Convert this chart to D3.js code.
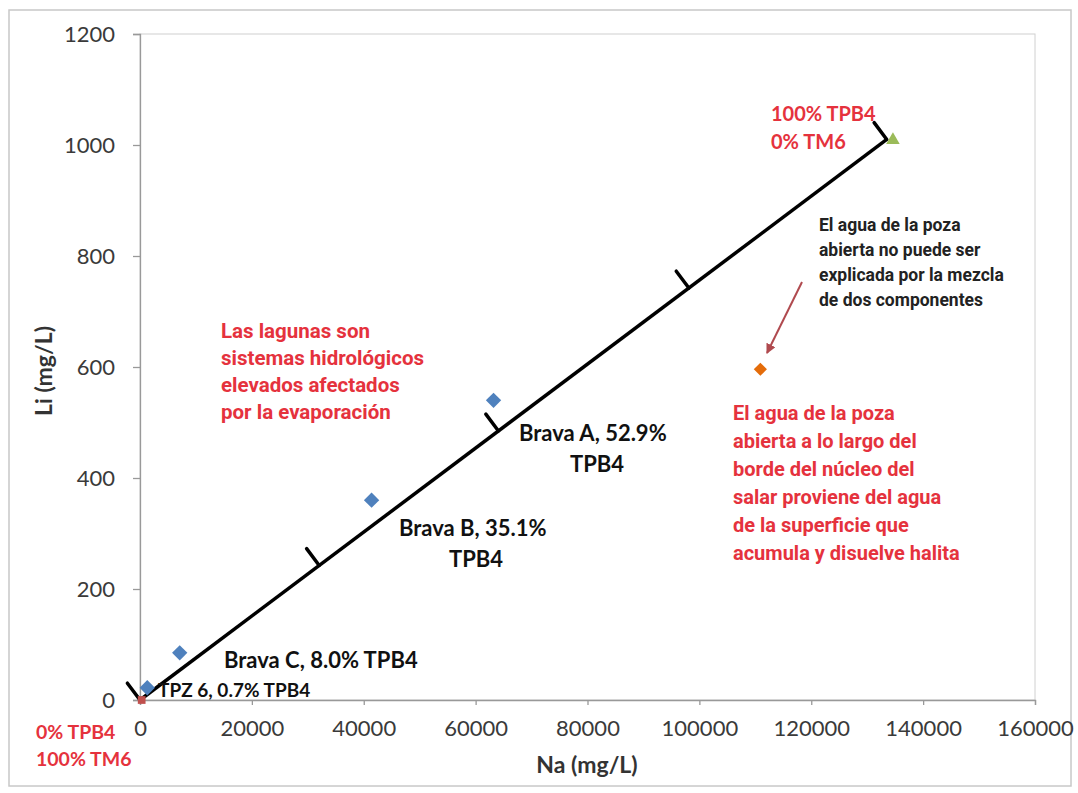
<!DOCTYPE html>
<html>
<head>
<meta charset="utf-8">
<script src="https://cdn.jsdelivr.net/npm/d3@7"></script>
<style>
  body { margin: 0; background: #fff; }
  svg text { font-family: Lato, "Liberation Sans", sans-serif; }
  .note { font-family: Roboto, "Liberation Sans", sans-serif; font-weight: 700; }
</style>
</head>
<body>
<div id="chart"></div>
<script>
// samples (Na vs Li, mg/L)
const sampleNames = ['TPZ 6', 'Brava C', 'Brava B', 'Brava A'];
const sampleNa = [1300, 7100, 41400, 63200];
const sampleLi = [22, 85, 360, 540];

// end members
const tm6 = {na: 300, li: 0};
const tpb4 = {na: 134600, li: 1009};

// open pond water
const pondNa = [110900];
const pondLi = [596];

// mixing line and its marks (fraction of TPB4)
const mixNa = [0, 133500];
const mixLi = [0, 1010];
const mixMarks = [0, 0.24, 0.48, 0.735, 1];

const xTicks = [0, 20000, 40000, 60000, 80000, 100000, 120000, 140000, 160000];
const yTicks = [0, 200, 400, 600, 800, 1000, 1200];

const width = 1078, height = 793;

const svg = d3.select('#chart')
    .append('svg')
    .attr('width', width)
    .attr('height', height);

// outer frame
svg.append('rect')
    .attr('x', 9).attr('y', 10)
    .attr('width', 1062).attr('height', 776)
    .attr('fill', '#fff')
    .attr('stroke', '#c8c8c8')
    .attr('stroke-width', 1.5);

const x = d3.scaleLinear().domain([0, 160000]).range([140, 1035]);
const y = d3.scaleLinear().domain([0, 1200]).range([700, 34]);

// plot area border
svg.append('rect')
    .attr('x', x(0)).attr('y', y(1200))
    .attr('width', x(160000) - x(0)).attr('height', y(0) - y(1200))
    .attr('fill', 'none')
    .attr('stroke', '#d0d0d0')
    .attr('stroke-width', 1);

// axes
const xAxis = d3.axisBottom(x).tickValues(xTicks).tickSize(5).tickPadding(15).tickFormat(d3.format('d'));
const yAxis = d3.axisLeft(y).tickValues(yTicks).tickSize(7).tickPadding(18).tickFormat(d3.format('d'));

const gx = svg.append('g')
    .attr('transform', 'translate(0,' + y(0) + ')')
    .call(xAxis);
const gy = svg.append('g')
    .attr('transform', 'translate(' + x(0) + ',0)')
    .call(yAxis);

[gx, gy].forEach(g => {
    g.select('.domain').attr('stroke', '#999').attr('stroke-width', 1.3);
    g.selectAll('.tick line').attr('stroke', '#999').attr('stroke-width', 1.3);
    g.selectAll('.tick text')
        .attr('fill', '#3a3a3a')
        .style('font-size', '22px')
        .style('font-family', 'Lato, sans-serif');
});

// axis titles
svg.append('text')
    .attr('x', 587).attr('y', 773)
    .attr('text-anchor', 'middle')
    .attr('font-weight', 700)
    .attr('font-size', 23)
    .attr('fill', '#333')
    .text('Na (mg/L)');

svg.append('text')
    .attr('transform', 'translate(52,371) rotate(-90)')
    .attr('text-anchor', 'middle')
    .attr('font-weight', 700)
    .attr('font-size', 23)
    .attr('fill', '#333')
    .text('Li (mg/L)');

// mixing line
const p0 = [x(mixNa[0]), y(mixLi[0])];
const p1 = [x(mixNa[1]), y(mixLi[1])];
svg.append('path')
    .attr('d', d3.line()([p0, p1]))
    .attr('stroke', '#000')
    .attr('stroke-width', 3.5)
    .attr('fill', 'none');

// perpendicular marks on upper-left side
const dx = p1[0] - p0[0], dy = p1[1] - p0[1];
const len = Math.sqrt(dx * dx + dy * dy);
const nx = dy / len, ny = -dx / len; // points up-left
const markLen = 21;
svg.selectAll('.mark')
    .data(mixMarks)
    .enter().append('line')
    .attr('class', 'mark')
    .attr('x1', f => p0[0] + f * dx)
    .attr('y1', f => p0[1] + f * dy)
    .attr('x2', f => p0[0] + f * dx + nx * markLen)
    .attr('y2', f => p0[1] + f * dy + ny * markLen)
    .attr('stroke', '#000')
    .attr('stroke-width', 3.5)
    .attr('stroke-linecap', 'round');

// sample diamonds
const diamond = d3.symbol().type(d3.symbolDiamond2).size(150);
svg.selectAll('.sample')
    .data(sampleNa.map((na, i) => ({na: na, li: sampleLi[i]})))
    .enter().append('path')
    .attr('class', 'sample')
    .attr('d', diamond)
    .attr('transform', d => 'translate(' + x(d.na) + ',' + y(d.li) + ')')
    .attr('fill', '#4f81bd');

// pond
svg.selectAll('.pond')
    .data(pondNa.map((na, i) => ({na: na, li: pondLi[i]})))
    .enter().append('path')
    .attr('class', 'pond')
    .attr('d', d3.symbol().type(d3.symbolDiamond2).size(110))
    .attr('transform', d => 'translate(' + x(d.na) + ',' + y(d.li) + ')')
    .attr('fill', '#e46c0a');

// end members
svg.append('path')
    .attr('d', d3.symbol().type(d3.symbolSquare).size(60))
    .attr('transform', 'translate(' + x(tm6.na) + ',' + y(tm6.li) + ')')
    .attr('fill', '#c0504d');
svg.append('path')
    .attr('d', d3.symbol().type(d3.symbolTriangle).size(80))
    .attr('transform', 'translate(' + x(tpb4.na) + ',' + y(tpb4.li) + ')')
    .attr('fill', '#9bbb59');

// arrow
svg.append('defs').append('marker')
    .attr('id', 'arrowhead')
    .attr('viewBox', '0 0 10 10')
    .attr('refX', 9).attr('refY', 5)
    .attr('markerWidth', 5).attr('markerHeight', 5)
    .attr('orient', 'auto')
    .append('path')
    .attr('d', 'M0,0 L10,5 L0,10 Z')
    .attr('fill', '#b04a4f');
svg.append('line')
    .attr('x1', 802).attr('y1', 282)
    .attr('x2', 767).attr('y2', 353)
    .attr('stroke', '#b04a4f')
    .attr('stroke-width', 2)
    .attr('marker-end', 'url(#arrowhead)');

// labels
function addLines(lines, x0, y0, step, opts) {
    const t = svg.append('text')
        .attr('class', opts.cls || null)
        .attr('x', x0).attr('y', y0)
        .attr('font-size', opts.size)
        .attr('font-weight', 700)
        .attr('fill', opts.color)
        .attr('text-anchor', opts.anchor || 'start')
        .attr('dominant-baseline', 'central');
    lines.forEach((l, i) => {
        t.append('tspan').attr('x', x0).attr('y', y0 + i * step).text(l);
    });
}

const red = '#e5323d';
addLines(['100% TPB4', '0% TM6'], 771, 113, 28, {size: 20, color: red});
addLines(['0% TPB4', '100% TM6'], 36, 731, 27, {size: 19.5, color: red});

addLines(['TPZ 6, 0.7% TPB4'], 158, 689, 0, {size: 19, color: '#111'});
addLines(['Brava C, 8.0% TPB4'], 224, 659, 0, {size: 22, color: '#111'});
addLines(['Brava B, 35.1%'], 399, 527, 0, {size: 22, color: '#111'});
addLines(['TPB4'], 476, 558, 0, {size: 22, color: '#111', anchor: 'middle'});
addLines(['Brava A, 52.9%'], 519, 432, 0, {size: 22, color: '#111'});
addLines(['TPB4'], 597, 463, 0, {size: 22, color: '#111', anchor: 'middle'});

addLines(['Las lagunas son', 'sistemas hidrológicos', 'elevados afectados', 'por la evaporación'],
    221, 331, 27, {size: 20.5, color: red, cls: 'note'});

addLines(['El agua de la poza', 'abierta no puede ser', 'explicada por la mezcla', 'de dos componentes'],
    819, 225, 25, {size: 17.5, color: '#222', cls: 'note'});

addLines(['El agua de la poza', 'abierta a lo largo del', 'borde del núcleo del', 'salar proviene del agua',
    'de la superficie que', 'acumula y disuelve halita'],
    733, 413, 28, {size: 20, color: red, cls: 'note'});
</script>
</body>
</html>
